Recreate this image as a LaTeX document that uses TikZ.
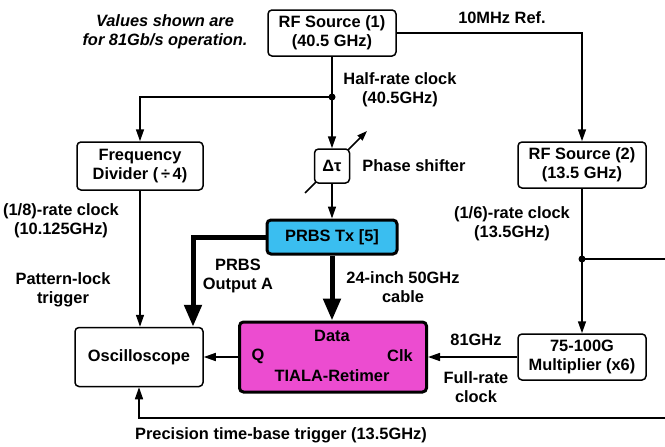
\documentclass[tikz,border=0pt]{standalone}
\usepackage{fontspec}
\setmainfont{Liberation Sans}
\usepackage{xcolor}
\usetikzlibrary{positioning, arrows.meta}
\definecolor{prbsblue}{RGB}{58,190,240}
\definecolor{retimerpink}{RGB}{236,76,208}

\begin{document}
\begin{tikzpicture}[
    x=1pt, y=-1pt,
    every node/.style={font=\fontsize{16.4}{19.5}\selectfont\bfseries, align=center, inner sep=0pt},
    block/.style={rectangle, draw, line width=1.5pt, rounded corners=4pt, minimum width=128pt, minimum height=46pt, fill=#1},
    block/.default=white,
    arr/.style={-{Triangle[length=12pt, width=8pt]}, line width=1.5pt},
    fat/.style={-{Triangle[length=22pt, width=17pt]}, line width=5pt},
    dot/.style={circle, fill, inner sep=0pt, minimum size=7pt},
]
    \useasboundingbox (0,0) rectangle (665,447);

    % boxes
    \node[block] (rf1) at (332,33) {RF Source (1)\\(40.5 GHz)};
    \node[block] (rf2) at (582,165) {RF Source (2)\\(13.5 GHz)};
    \node[block, minimum width=126pt, minimum height=48pt] (div) at (140,166) {Frequency\\Divider (\,÷\,4)};
    \node[block, minimum height=59pt] (osc) at (139,357) {Oscilloscope};
    \node[block] (mult) at (582,357) {75-100G\\Multiplier (x6)};
    \node[block=prbsblue, line width=3pt, minimum width=130pt, minimum height=34pt] (prbs) at (332,237) {PRBS Tx [5]};
    \node[block=retimerpink, line width=3pt, minimum width=187pt, minimum height=70pt] (tiala) at (333,357) {};
    \node (data) at (332,336) {Data};
    \node (q) at (258,356) {Q};
    \node (clk) at (400,356) {Clk};
    \node (tialaname) at (332,376) {TIALA-Retimer};

    % phase shifter
    \coordinate (phasec) at (332,166);
    \draw[-{Triangle[length=10pt, width=7pt]}, line width=1.5pt] ([shift={(-27,27)}]phasec) -- ([shift={(35,-35)}]phasec);
    \node[block, minimum width=35pt, minimum height=34pt] (phase) at (phasec) {Δτ};
    \node[right=12pt of phase] (shiftlabel) {Phase shifter};

    % split points
    \coordinate (split1) at (rf1.south |- 0,97);
    \coordinate (split2) at (rf2.south |- 0,259);
    \coordinate (edge1) at (665,259);
    \coordinate (edge2) at (665,418);

    % connectors
    \draw[arr] (rf1.south) -- (phase.north);
    \draw[arr] (split1) -| (div.north);
    \node[dot] at (split1) {};
    \draw[arr] (phase.south) -- (prbs.north);
    \draw[arr] (rf1.east) -| (rf2.north);
    \draw[arr] (div.south) -- (div.south |- osc.north);
    \draw[fat] (prbs.west) -| ([xshift=54pt]osc.north);
    \draw[fat] (prbs.south) -- (prbs.south |- tiala.north);
    \draw[arr] (tiala.west) -- (osc.east);
    \draw[arr] (mult.west) -- (tiala.east);
    \draw[arr] (rf2.south) -- (mult.north);
    \draw[line width=1.5pt] (split2) -- (edge1);
    \node[dot] at (split2) {};
    \draw[arr] (edge2) -| (osc.south);

    % labels
    \node[font=\fontsize{16.4}{19.5}\selectfont\bfseries\itshape] (note) at (165,32) {Values shown are\\for 81Gb/s operation.};
    \node (halfrate) at (400,90) {Half-rate clock\\(40.5GHz)};
    \node (ref10) at (502,18) {10MHz Ref.};
    \node (eighth) at (61,221) {(1/8)-rate clock\\(10.125GHz)};
    \node (patlock) at (63,290) {Pattern-lock\\trigger};
    \node (outA) at (238,276) {PRBS\\Output A};
    \node (cable) at (403,287) {24-inch 50GHz\\cable};
    \node (sixth) at (512,224) {(1/6)-rate clock\\(13.5GHz)};
    \node (ghz81) at (476,340) {81GHz};
    \node (fullrate) at (476,387) {Full-rate\\clock};
    \node (ptrig) at (281,435) {Precision time-base trigger (13.5GHz)};
\end{tikzpicture}
\end{document}
